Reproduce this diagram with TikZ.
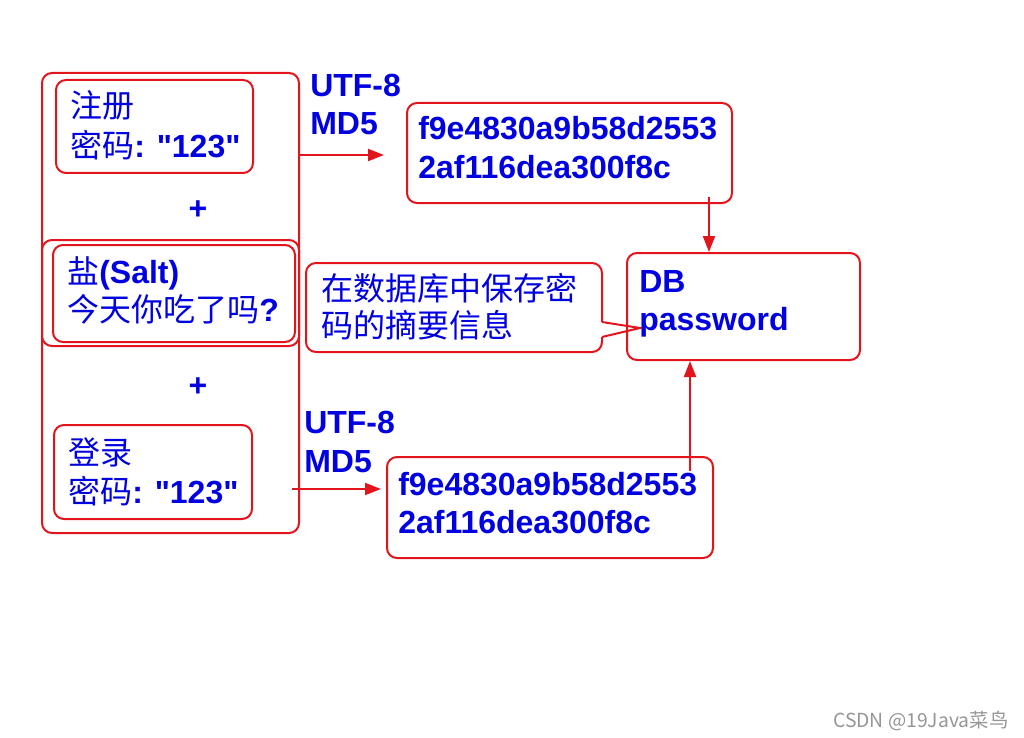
\documentclass[tikz,border=0pt]{standalone}
\usepackage{fontspec}
\setmainfont{Liberation Sans}[Ligatures=TeXOff]
\newfontfamily\cjk{Noto Sans CJK SC}
\usetikzlibrary{arrows.meta,fit}
\definecolor{lred}{RGB}{228,20,28}
\definecolor{tblue}{RGB}{0,0,225}
\definecolor{wm}{RGB}{150,150,150}
\tikzset{
  box/.style={draw=lred, line width=1.5pt, rounded corners=7.5pt, inner sep=0pt},
  txt/.style={anchor=base west, inner sep=0pt, text=tblue, font=\fontsize{24}{28}\selectfont\bfseries},
  arr/.style={draw=lred, line width=1.5pt, -{Triangle[length=12pt,width=9pt]}}
}
\newcommand{\zh}[1]{{\cjk\mdseries #1}}
\begin{document}
\begin{tikzpicture}[x=0.75pt,y=-0.75pt]
\useasboundingbox (0,0) rectangle (1024,738);
% group boxes
\node[box, fit={(42,73)(299,346)}] (grpA) {};
\node[box, fit={(42,240)(299,533)}] (grpB) {};
\node[box, fit={(56,80)(253,173)}] (reg) {};
\node[box, fit={(53,245)(295,342)}] (salt) {};
\node[box, fit={(54,425)(252,519)}] (login) {};
\node[box, fit={(407,103)(732,203)}] (hashA) {};
\node[box, fit={(387,457)(713,558)}] (hashB) {};
\node[box, fit={(627,253)(860,360)}] (db) {};
% callout
\draw[lred, line width=1.5pt, rounded corners=7.5pt] (602,337) -- (602,352) -- (306,352) -- (306,263) -- (602,263) -- (602,322);
\draw[lred, line width=1.5pt, line join=miter] (602,322) -- (640,328) -- (602,337);
% texts
\node[txt] (reg1) at (70,118) {\zh{注册}};
\node[txt] (reg2) at (70,157) {\zh{密码}: "123"};
\node[txt, anchor=center] (plusA) at (198,210) {+};
\node[txt] (salt1) at (67,283) {\zh{盐}(Salt)};
\node[txt] (salt2) at (67,321) {\zh{今天你吃了吗}?};
\node[txt, anchor=center] (plusB) at (198,387) {+};
\node[txt] (log1) at (68,464) {\zh{登录}};
\node[txt] (log2) at (68,503) {\zh{密码}: "123"};
\node[txt] (encA1) at (310,97) {UTF-8};
\node[txt] (encA2) at (310,135) {MD5};
\node[txt] (encB1) at (304,433) {UTF-8};
\node[txt] (encB2) at (304,472) {MD5};
\node[txt] (hA1) at (418,140) {f9e4830a9b58d2553};
\node[txt] (hA2) at (418,179) {2af116dea300f8c};
\node[txt] (hB1) at (398,495) {f9e4830a9b58d2553};
\node[txt] (hB2) at (398,533) {2af116dea300f8c};
\node[txt] (db1) at (639,292) {DB};
\node[txt] (db2) at (639,330) {password};
\node[txt] (note1) at (321,300) {\zh{在数据库中保存密}};
\node[txt] (note2) at (321,337) {\zh{码的摘要信息}};
% arrows
\coordinate (aS) at (299,155);
\draw[arr, shorten >=16.5pt] (aS) -- (aS -| hashA.west);
\coordinate (bS) at (292,489);
\draw[arr, shorten >=3.75pt] (bS) -- (bS -| hashB.west);
\coordinate (vA) at (709,197);
\draw[arr] (vA) -- (vA |- db.north);
\coordinate (vB) at (690,471);
\draw[arr] (vB) -- (vB |- db.south);
% watermark
\node[anchor=base west, inner sep=0pt, text=wm, font=\cjk\fontsize{14.5}{17}\selectfont] (mark) at (833,727) {CSDN @19Java菜鸟};
\end{tikzpicture}
\end{document}
